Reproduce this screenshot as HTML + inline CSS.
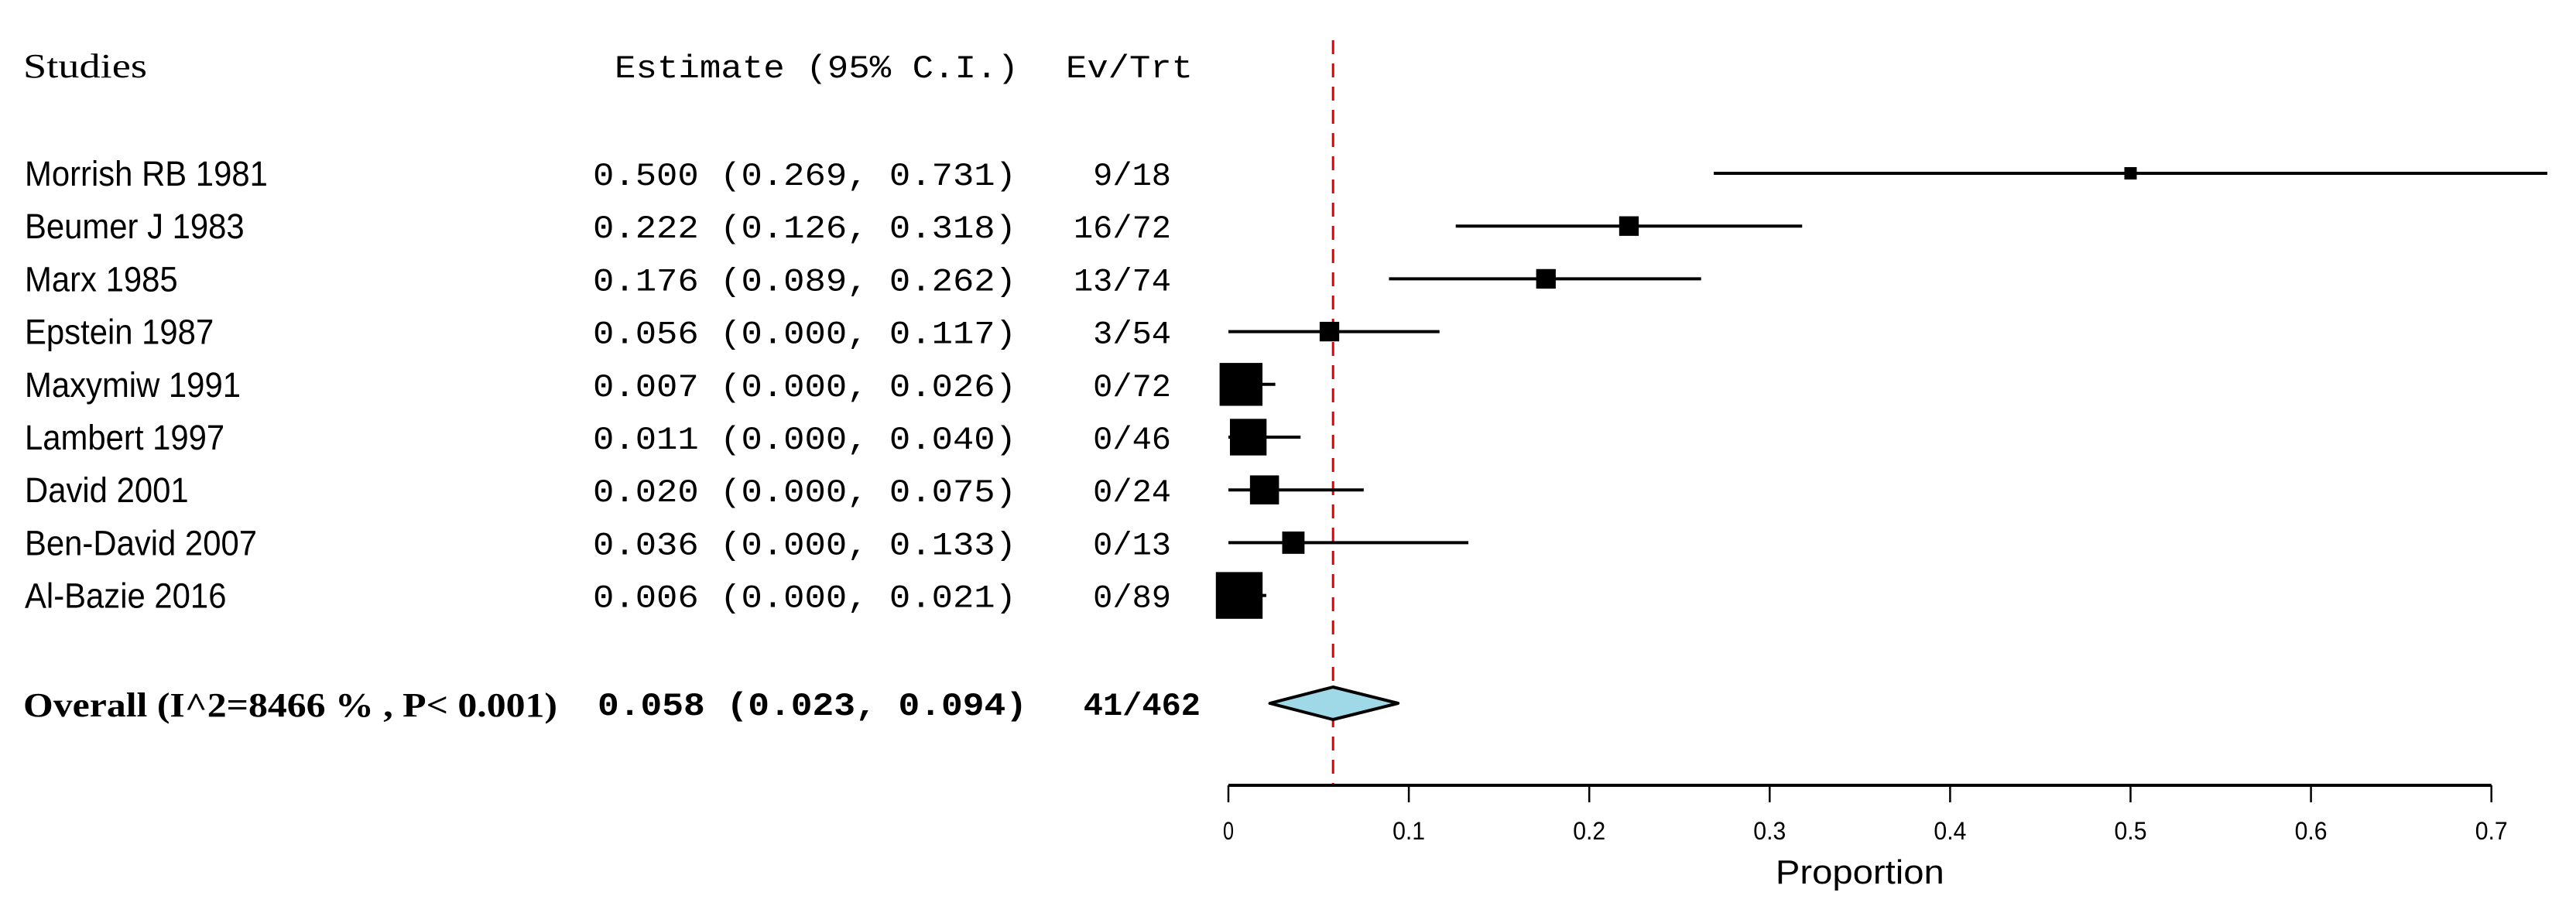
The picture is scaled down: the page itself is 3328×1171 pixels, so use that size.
<!DOCTYPE html>
<html><head><meta charset="utf-8"><style>
html,body{margin:0;padding:0;background:#fff;}
svg{display:block;}
</style></head><body>
<svg id="chart" width="3328" height="1171" viewBox="0 0 3328 1171" xmlns="http://www.w3.org/2000/svg">
<g id="g"></g>
</svg>
<script>
const studies = ["Morrish RB 1981","Beumer J 1983","Marx 1985","Epstein 1987","Maxymiw 1991","Lambert 1997","David 2001","Ben-David 2007","Al-Bazie 2016"];
const estimates = [0.500,0.222,0.176,0.056,0.007,0.011,0.020,0.036,0.006];
const lowers = [0.269,0.126,0.089,0.000,0.000,0.000,0.000,0.000,0.000];
const uppers = [0.731,0.318,0.262,0.117,0.026,0.040,0.075,0.133,0.021];
const events = [9,16,13,3,0,0,0,0,0];
const totals = [18,72,74,54,72,46,24,13,89];
const weights = [4,10,10,10,48,35,22,13,57];
const overallEst = 0.058, overallLo = 0.023, overallHi = 0.094;
const overallLabel = "Overall (I^2=8466 % , P< 0.001)";
const ticks = [0,0.1,0.2,0.3,0.4,0.5,0.6,0.7];

const NS="http://www.w3.org/2000/svg";
const g=document.getElementById('g');
const X0=1587, XW=2331;
const xs=v=>X0+v*XW;
const rowY=i=>224+68.2*i;
const OY=909, AXY=1015;
function el(t,a,parent){const e=document.createElementNS(NS,t);for(const k in a)e.setAttribute(k,a[k]);(parent||g).appendChild(e);return e;}
function txt(s,a){const e=el('text',a);e.textContent=s;return e;}
const sans='"Liberation Sans", sans-serif', mono='"Liberation Mono", monospace';
const fmt=v=>v.toFixed(3);

let t;
t=txt("Studies",{x:30,y:100,'font-family':'"Liberation Serif", serif','font-size':44,textLength:160,lengthAdjust:'spacingAndGlyphs'});

t=txt("Estimate (95% C.I.)",{x:794,y:100,'font-family':mono,'font-size':42,textLength:522,lengthAdjust:'spacingAndGlyphs'});

t=txt("Ev/Trt",{x:1377,y:100,'font-family':mono,'font-size':42,textLength:164,lengthAdjust:'spacingAndGlyphs'});


let rl=el('line',{x1:xs(overallEst),x2:xs(overallEst),y1:52,y2:AXY,stroke:'#e00000','stroke-width':3,'stroke-dasharray':'18,12'});


const xmax=(3328-X0)/XW;
studies.forEach((s,i)=>{
  const y=rowY(i);
  let a=txt(s,{x:32,y:y+16,'font-family':sans,'font-size':45,transform:`translate(32,0) scale(0.93,1) translate(-32,0)`});
  
  const es=fmt(estimates[i])+" ("+fmt(lowers[i])+", "+fmt(uppers[i])+")";
  a=txt(es,{x:766,y:y+15,'font-family':mono,'font-size':42,textLength:547,lengthAdjust:'spacingAndGlyphs'});
  
  a=txt(events[i]+"/"+totals[i],{x:1513,y:y+15,'font-family':mono,'font-size':42,'text-anchor':'end'});
  
  const l=el('line',{x1:xs(lowers[i]),x2:xs(Math.min(uppers[i],xmax)),y1:y,y2:y,stroke:'#000','stroke-width':4});
  
  const sz=8*Math.sqrt(weights[i]);
  const r=el('rect',{x:xs(estimates[i])-sz/2,y:y-sz/2,width:sz,height:sz,fill:'#000'});
  
});

t=txt(overallLabel,{x:30,y:OY+17,'font-family':'"Liberation Serif", serif','font-size':44,'font-weight':'bold',textLength:690,lengthAdjust:'spacingAndGlyphs'});

t=txt(fmt(overallEst)+" ("+fmt(overallLo)+", "+fmt(overallHi)+")",{x:772,y:OY+15,'font-family':mono,'font-size':42,'font-weight':'bold',textLength:555,lengthAdjust:'spacingAndGlyphs'});

t=txt(events.reduce((a,b)=>a+b,0)+"/"+totals.reduce((a,b)=>a+b,0),{x:1551,y:OY+15,'font-family':mono,'font-size':42,'font-weight':'bold','text-anchor':'end'});

const d=el('polygon',{points:`${xs(overallLo)},${OY} ${xs(overallEst)},${OY-21} ${xs(overallHi)},${OY} ${xs(overallEst)},${OY+21}`,fill:'#9fd8e6',stroke:'#000','stroke-width':4,'stroke-linejoin':'round'});


const ax=el('line',{x1:xs(ticks[0]),x2:xs(ticks[ticks.length-1]),y1:AXY,y2:AXY,stroke:'#000','stroke-width':4});

ticks.forEach(v=>{
  const tk=el('line',{x1:xs(v),x2:xs(v),y1:AXY,y2:AXY+22,stroke:'#000','stroke-width':2.5});
  
  const tl=txt(String(v),{x:xs(v),y:AXY+70,'font-family':sans,'font-size':32,'text-anchor':'middle',textLength:String(v).length*14,lengthAdjust:'spacingAndGlyphs'});
  
});
t=txt("Proportion",{x:xs(0.35),y:AXY+127,'font-family':sans,'font-size':44,'text-anchor':'middle',textLength:218,lengthAdjust:'spacingAndGlyphs'});

</script>
</body></html>
